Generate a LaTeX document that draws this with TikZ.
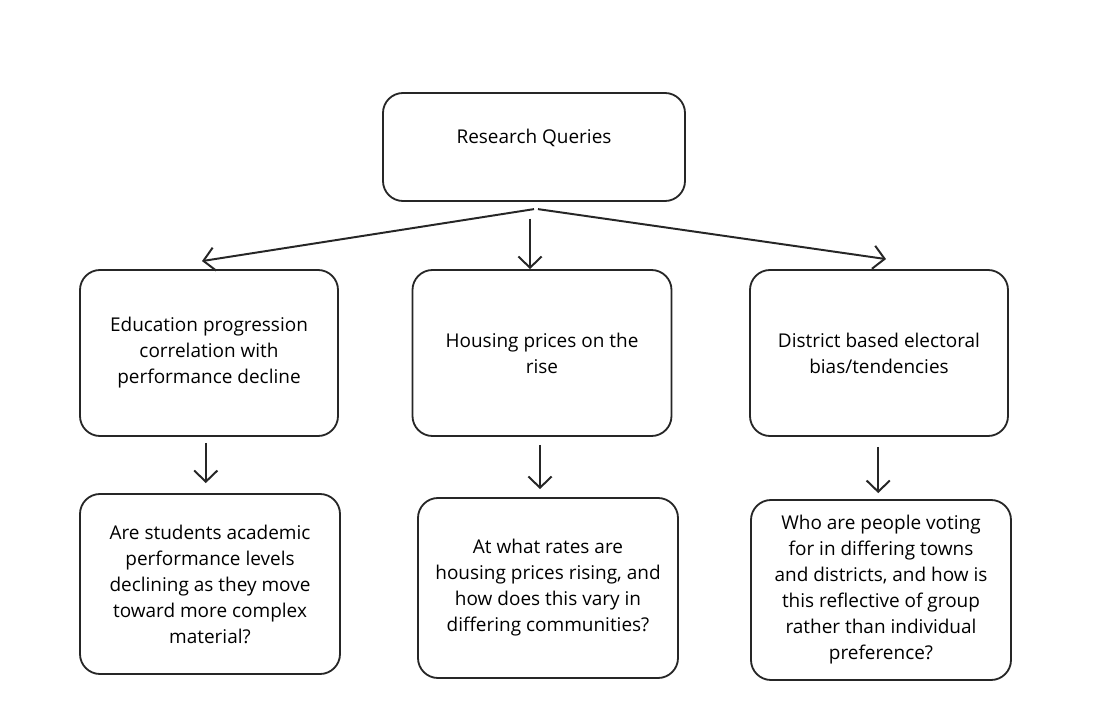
\documentclass[tikz,border=0pt]{standalone}
\usepackage{fontspec}
\setmainfont{Open Sans}
\usepackage{tikz}
\usetikzlibrary{positioning}
\usetikzlibrary{arrows.meta}

\tikzset{
	qbox/.style={draw=black!85, line width=1.3pt, rounded corners=0.5cm, align=center,
		font=\fontsize{13.5}{18.5}\selectfont, inner sep=0pt},
	qarrow/.style={draw=black!85, line width=1.4pt, -{Straight Barb[length=2.8mm, width=5.8mm, line width=1.4pt]}},
}

\begin{document}
\begin{tikzpicture}
		
		% ---------------------
		% Proper size --- Bounding box
		\useasboundingbox (0.00cm, 0.00cm) rectangle (27.35cm, -17.90cm);
		
		% ---------------------
		% Top box
		\node[qbox, minimum width=7.55cm, minimum height=2.70cm, text depth=0.55cm] (Query) at (13.35cm,-3.675cm) {Research Queries};
		
		% ---------------------
		% Topic boxes
		\node[qbox, minimum width=6.45cm, minimum height=4.15cm] (Educ) at (5.225cm,-8.825cm)
			{Education progression\\ correlation with\\ performance decline};
		\node[qbox, minimum width=6.475cm, minimum height=4.15cm] (Housing) at (13.55cm,-8.825cm)
			{Housing prices on the\\ rise};
		\node[qbox, minimum width=6.45cm, minimum height=4.15cm] (District) at (21.975cm,-8.825cm)
			{District based electoral\\ bias/tendencies};
		
		% ---------------------
		% Question boxes
		\node[qbox, minimum width=6.50cm, minimum height=4.50cm] (EducQ) at (5.25cm,-14.60cm)
			{Are students academic\\ performance levels\\ declining as they move\\ toward more complex\\ material?};
		\node[qbox, minimum width=6.50cm, minimum height=4.50cm] (HousingQ) at (13.70cm,-14.70cm)
			{At what rates are\\ housing prices rising, and\\ how does this vary in\\ differing communities?};
		\node[qbox, minimum width=6.50cm, minimum height=4.50cm] (DistrictQ) at (22.025cm,-14.75cm)
			{Who are people voting\\ for in differing towns\\ and districts, and how is\\ this reflective of group\\ rather than individual\\ preference?};
		
		% ---------------------
		% Arrow origins and ends
		\path (Query.south) +(0.00cm,-0.18cm) coordinate (Split);
		\path (Query.south) +(-0.10cm,-0.42cm) coordinate (SplitMid);
		\path (Educ.north) +(-0.175cm,0.20cm) coordinate (EducIn);
		\path (District.north) +(0.175cm,0.25cm) coordinate (DistrictIn);
		\path (Educ.south) +(-0.08cm,-0.15cm) coordinate (EducOut);
		\path (Housing.south) +(-0.05cm,-0.20cm) coordinate (HousingOut);
		\path (District.south) +(-0.02cm,-0.25cm) coordinate (DistrictOut);
		
		% ---------------------
		\draw[qarrow] (Split) -- (EducIn);
		\draw[qarrow] (SplitMid) -- (SplitMid |- Housing.north);
		\draw[qarrow] ([xshift=0.10cm]Split) -- (DistrictIn);
		
		\draw[qarrow, shorten >=0.25cm] (EducOut) -- (EducOut |- EducQ.north);
		\draw[qarrow, shorten >=0.20cm] (HousingOut) -- (HousingOut |- HousingQ.north);
		\draw[qarrow, shorten >=0.15cm] (DistrictOut) -- (DistrictOut |- DistrictQ.north);
		
\end{tikzpicture}
\end{document}
